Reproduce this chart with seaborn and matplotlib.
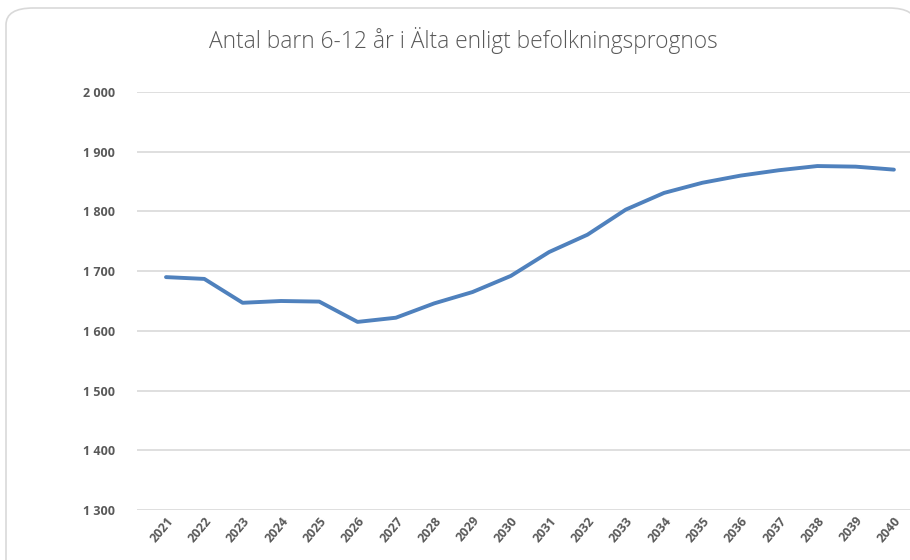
import matplotlib
matplotlib.use("Agg")
import matplotlib.pyplot as plt
import seaborn as sns
import pandas as pd
from matplotlib.patches import FancyBboxPatch
from matplotlib.ticker import FuncFormatter

# Data
years = list(range(2021, 2041))
children = [1690, 1687, 1647, 1650, 1649, 1615, 1622, 1646, 1665, 1692,
            1732, 1761, 1803, 1831, 1848, 1860, 1869, 1876, 1875, 1870]
y_ticks = [1300, 1400, 1500, 1600, 1700, 1800, 1900, 2000]
title = "Antal barn 6-12 år i Älta enligt befolkningsprognos"

df = pd.DataFrame({"year": years, "children": children})

sns.set_theme(style="white")
plt.rcParams['font.family'] = ['Open Sans', 'DejaVu Sans']

fig = plt.figure(figsize=(9.10, 5.60), dpi=100)

# rounded chart frame, kept behind the axes
frame = FancyBboxPatch((6 / 910, -0.05), 1.0, 1 - 8 / 560 + 0.05,
                       boxstyle="round,pad=0,rounding_size=0.03",
                       transform=fig.transFigure, facecolor="white",
                       edgecolor="#d9d9d9", linewidth=1.2, zorder=-10)
fig.patches.append(frame)

ax = fig.add_axes([137 / 910, 1 - 510 / 560, 1 - 137 / 910, (510 - 92) / 560])
ax.set_facecolor("none")

sns.lineplot(data=df, x="year", y="children", ax=ax, color="#4F81BD",
             linewidth=2.8, solid_capstyle="round")

ax.set_ylim(1300, 2000)
ax.set_xlim(2021 - 0.757, 2040.42)
ax.set_yticks(y_ticks)
ax.yaxis.set_major_formatter(FuncFormatter(lambda v, p: f"{int(v):,}".replace(",", " ")))
ax.set_xticks(years)
ax.set_xticklabels([str(y) for y in years], rotation=50, ha="right",
                   rotation_mode="anchor")

ax.grid(axis="y", color="#d9d9d9", linewidth=1.2)
ax.set_axisbelow(True)
for s in ax.spines.values():
    s.set_visible(False)
ax.tick_params(axis="y", length=0, labelsize=9, labelcolor="#595959", pad=16)
ax.tick_params(axis="x", length=0, labelsize=9, labelcolor="#595959", pad=3)
for lab in ax.get_xticklabels() + ax.get_yticklabels():
    lab.set_fontweight("bold")
ax.set_xlabel("")
ax.set_ylabel("")

fig.text(0.509, 1 - 40 / 560, title, ha="center", va="center",
         fontsize=16.4, color="#595959", fontweight="light")

fig.savefig("out.png", dpi=100)
